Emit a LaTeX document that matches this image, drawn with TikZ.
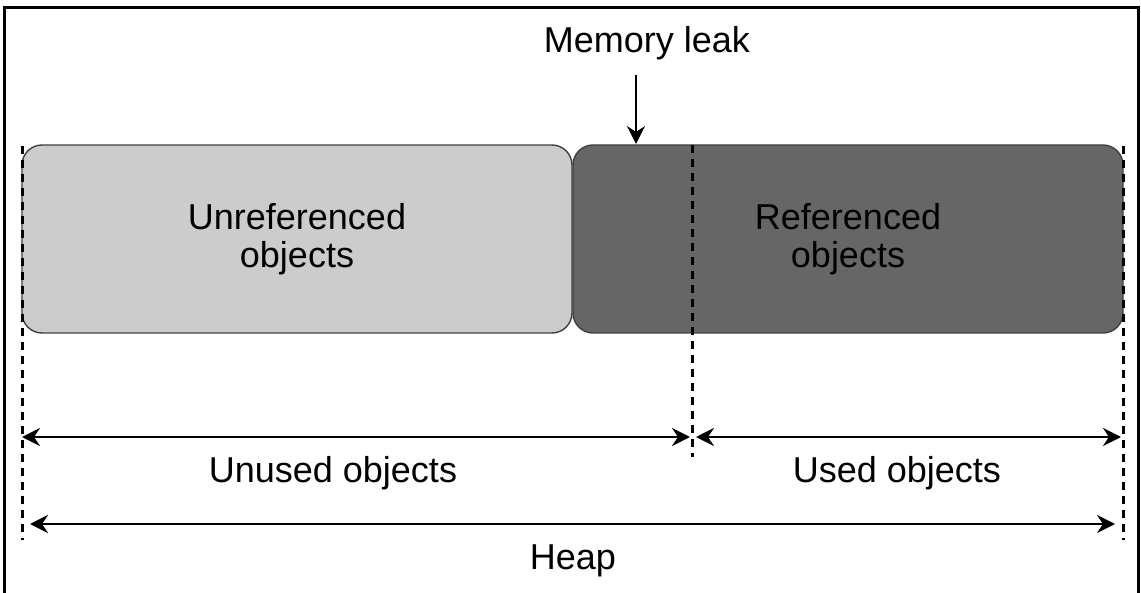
\documentclass[tikz,border=0pt]{standalone}
\usepackage{fontspec}
\setmainfont{Liberation Sans}
\usetikzlibrary{arrows.meta}

\begin{document}
\begin{tikzpicture}[x=0.5pt,y=-0.5pt,
every node/.style={font=\fontsize{18}{19}\selectfont,align=center},
objbox/.style={draw=black!75,line width=0.7pt,rounded corners=10pt,minimum width=275pt,minimum height=94pt,inner sep=0pt},
bound/.style={line width=1.5pt,dash pattern=on 4pt off 3pt},
span/.style={line width=1.4pt,{Stealth[length=9pt,width=9pt,inset=3pt]}-{Stealth[length=9pt,width=9pt,inset=3pt]}},
pointer/.style={line width=1.4pt,-{Stealth[length=9pt,width=9pt,inset=3pt]}}]
\useasboundingbox (0,0) rectangle (1141,593);
\draw[line width=1.5pt] (4,593) -- (4,8) -- (1138,8) -- (1138,593);

\node[objbox,fill=black!20] (unref) at (297,239) {Unreferenced\\objects};
\node[objbox,fill=black!60] (ref) at (848,239) {Referenced\\objects};

\coordinate (L1) at (22,146);
\coordinate (L2) at (22,540);
\coordinate (M1) at (692,145);
\coordinate (M2) at (692,457);
\coordinate (R1) at (1123,146);
\coordinate (R2) at (1123,540);
\draw[bound] (L1)--(L2);
\draw[bound] (M1)--(M2);
\draw[bound] (R1)--(R2);

\node[anchor=base] (leak) at (647,53) {Memory leak};
\coordinate (K1) at (636,75);
\coordinate (K2) at (636,144);
\draw[pointer] (K1)--(K2);

\coordinate (A1) at (22,437);
\coordinate (A2) at (690,437);
\coordinate (A3) at (696,437);
\coordinate (A4) at (1121,437);
\coordinate (H1) at (30,524);
\coordinate (H2) at (1115,524);
\draw[span] (A1)--(A2);
\draw[span] (A3)--(A4);
\draw[span] (H1)--(H2);

\node[anchor=base] (unused) at (333,482) {Unused objects};
\node[anchor=base] (used) at (897,482) {Used objects};
\node[anchor=base] (heap) at (573,569) {Heap};

\end{tikzpicture}
\end{document}
